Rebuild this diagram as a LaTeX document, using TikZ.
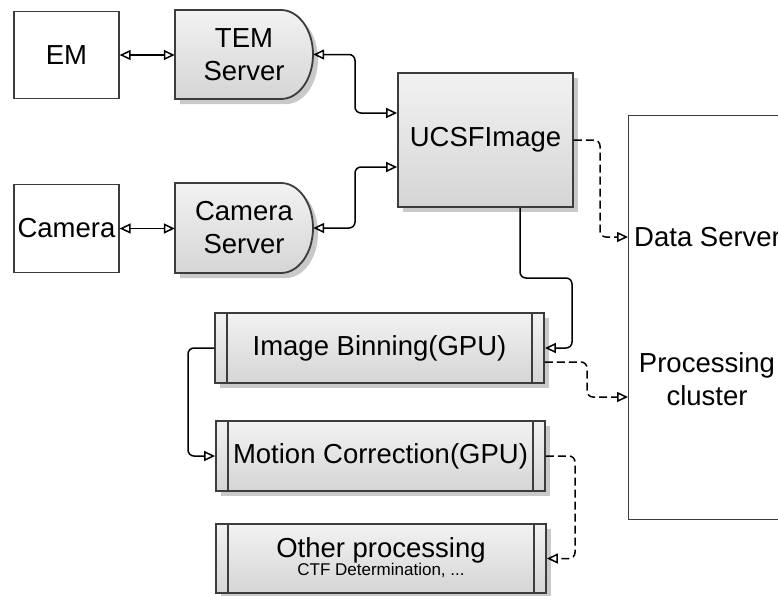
\documentclass[tikz,border=0pt]{standalone}
\usepackage{fontspec}
\setmainfont{Liberation Sans}
\usetikzlibrary{arrows.meta,shadows,calc}
\definecolor{edge}{HTML}{3C3C3C}
\definecolor{topg}{HTML}{F2F2F2}
\definecolor{botg}{HTML}{D5D5D5}
\tikzset{
  big/.style={font=\fontsize{27.5}{33}\selectfont},
  plainbox/.style={draw=edge, line width=1.2pt, inner sep=0pt, big},
  shadebox/.style={draw=edge, line width=1.8pt, top color=topg, bottom color=botg, inner sep=0pt, big,
     drop shadow={shadow xshift=5pt, shadow yshift=-5pt, fill=black!35, opacity=0.6}},
  ghost/.style={inner sep=0pt, big, align=center},
  conn/.style={line width=1.5pt, rounded corners=6pt},
  dconn/.style={conn, dash pattern=on 8pt off 4pt},
  tip/.tip={Triangle[open, length=11pt, width=10pt]},
}
\begin{document}
\begin{tikzpicture}[x=1pt,y=-1pt]
\useasboundingbox (0,0) rectangle (778,595);
\clip (0,0) rectangle (778,595);
\fill[white] (0,0) rectangle (778,595);

% plain boxes
\node[plainbox, minimum width=105pt, minimum height=87pt] (em) at (66.5,55) {EM};
\node[plainbox, minimum width=105pt, minimum height=88pt] (cam) at (66.5,228.5) {Camera};

% delay-shaped servers
\path[shadebox] (175,10) -- (281,10) .. controls (298.7,10) and (313,29.9) .. (313,54.5)
   .. controls (313,79.1) and (298.7,99) .. (281,99) -- (175,99) -- cycle;
\node[ghost, minimum width=138pt, minimum height=89pt] (tem) at (244,54.5) {TEM\\Server};
\path[shadebox] (175,183) -- (281,183) .. controls (298.7,183) and (313,203.1) .. (313,228)
   .. controls (313,252.9) and (298.7,273) .. (281,273) -- (175,273) -- cycle;
\node[ghost, minimum width=138pt, minimum height=90pt] (csrv) at (244,228) {Camera\\Server};

% UCSFImage
\node[shadebox, minimum width=175pt, minimum height=134pt] (ucsf) at (485.5,140) {UCSFImage};

% cluster box
\node[plainbox, anchor=north west, minimum width=200pt, minimum height=404pt] (cluster) at (628,115) {};
\node[ghost, anchor=west] (ds) at (634,237) {Data Server};
\node[ghost] (pc) at (707,379) {Processing\\cluster};
\coordinate (pin) at (628,397);

% processing boxes
\node[shadebox, minimum width=329pt, minimum height=70pt] (bin) at (379.5,348) {Image Binning(GPU)};
\node[shadebox, minimum width=329pt, minimum height=70pt] (mot) at (380.5,456) {Motion Correction(GPU)};
\node[shadebox, minimum width=330pt, minimum height=69pt] (oth) at (381,558.5) {};
\node[ghost, anchor=base] (othtxt) at (381,557) {Other processing};
\node[ghost, anchor=base, font=\fontsize{17}{20}\selectfont] (othsub) at (381,575) {CTF Determination, ...};
\foreach \n in {bin,mot,oth}{
  \draw[edge, line width=1.8pt] ([xshift=13pt]\n.north west) -- ([xshift=13pt]\n.south west);
  \draw[edge, line width=1.8pt] ([xshift=-13pt]\n.north east) -- ([xshift=-13pt]\n.south east);
}

% connectors
\draw[conn, tip-tip] (em.east) -- (em.east -| tem.west);
\draw[conn, tip-tip] (cam.east) -- (cam.east -| csrv.west);
\draw[conn, tip-tip] (tem.east) -- (355,54.5) |- ([yshift=27pt]ucsf.west);
\draw[conn, tip-tip] (csrv.east) -- (355,228) |- ([yshift=-27pt]ucsf.west);
\draw[dconn, -tip] (ucsf.east) -- (600,140) |- (cluster.west |- ds.west);
\draw[conn, -tip] ([xshift=34.5pt]ucsf.south) -- (520,278) -- (572,278) |- (bin.east);
\draw[dconn, -tip] ([yshift=-14pt]bin.east) -- (587,362) |- (pin);
\draw[conn, -tip] (bin.west) -- (188,348) |- (mot.west);
\draw[dconn, -tip] (mot.east) -- (575,456) |- (oth.east);
\end{tikzpicture}
\end{document}
